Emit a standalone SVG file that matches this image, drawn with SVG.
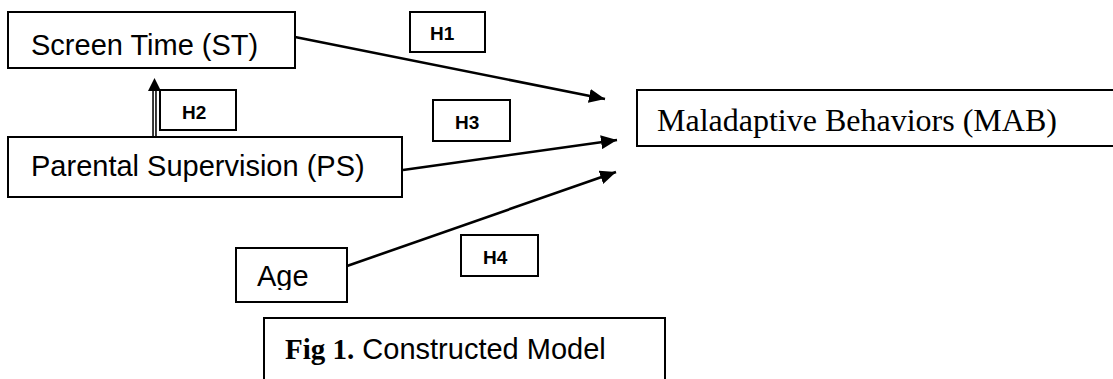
<svg xmlns="http://www.w3.org/2000/svg" width="1113" height="379" viewBox="0 0 1113 379">
<style>
.box{fill:#fff;stroke:#000;stroke-width:2}
.sans{font-family:"Liberation Sans",Arial,sans-serif;font-size:29px;fill:#000}
.serif{font-family:"Liberation Serif","Times New Roman",serif;font-size:32px;fill:#000}
.h{font-family:"Liberation Sans",Arial,sans-serif;font-size:19px;font-weight:bold;fill:#000}
.conn{stroke:#000;stroke-width:2.6;fill:none}
</style>
<defs>
<marker id="arrow" markerUnits="userSpaceOnUse" markerWidth="18" markerHeight="14" refX="16" refY="7" orient="auto">
<path d="M0,0 L16,7 L0,14 z" fill="#000"/>
</marker>
<clipPath id="ageClip"><rect x="236" y="248" width="111" height="42"/></clipPath>
</defs>
<rect width="1113" height="379" fill="#fff"/>
<g id="connectors">
<line class="conn" x1="295" y1="37" x2="605" y2="99" marker-end="url(#arrow)"/>
<line class="conn" x1="403" y1="170" x2="617" y2="140" marker-end="url(#arrow)"/>
<line class="conn" x1="347" y1="266" x2="616" y2="172" marker-end="url(#arrow)"/>
<g id="ps-st">
<line x1="154.5" y1="137" x2="154.5" y2="89" stroke="#000" stroke-width="4.5"/>
<line x1="154.5" y1="136" x2="154.5" y2="90" stroke="#fff" stroke-width="1.4"/>
<path d="M148,91 L154.5,78 L161,91 z" fill="#000"/>
</g>
</g>
<g id="node-st">
<rect class="box" x="8" y="12" width="287" height="56"/>
<text class="sans" x="31" y="55">Screen Time (ST)</text>
</g>
<g id="node-ps">
<rect class="box" x="8" y="137" width="394" height="60"/>
<text class="sans" x="31" y="176">Parental Supervision (PS)</text>
</g>
<g id="node-age">
<rect class="box" x="236" y="248" width="111" height="54"/>
<text class="sans" x="257" y="286" clip-path="url(#ageClip)">Age</text>
</g>
<g id="node-mab">
<rect class="box" x="637" y="90" width="490" height="56"/>
<text class="serif" x="657" y="131">Maladaptive Behaviors (MAB)</text>
</g>
<g id="label-h1">
<rect class="box" x="410" y="12" width="75" height="40"/>
<text class="h" x="430" y="40">H1</text>
</g>
<g id="label-h2">
<rect class="box" x="160" y="90" width="76" height="40"/>
<text class="h" x="182" y="119">H2</text>
</g>
<g id="label-h3">
<rect class="box" x="433" y="100" width="77" height="41"/>
<text class="h" x="455" y="129">H3</text>
</g>
<g id="label-h4">
<rect class="box" x="461" y="235" width="77" height="41"/>
<text class="h" x="483" y="264">H4</text>
</g>
<g id="caption">
<path d="M264,380 V318 H665 V380" fill="none" stroke="#000" stroke-width="2"/>
<text x="285" y="359" class="sans"><tspan style="font-family:'Liberation Serif','Times New Roman',serif;font-weight:bold">Fig 1.</tspan> Constructed Model</text>
</g>
</svg>
